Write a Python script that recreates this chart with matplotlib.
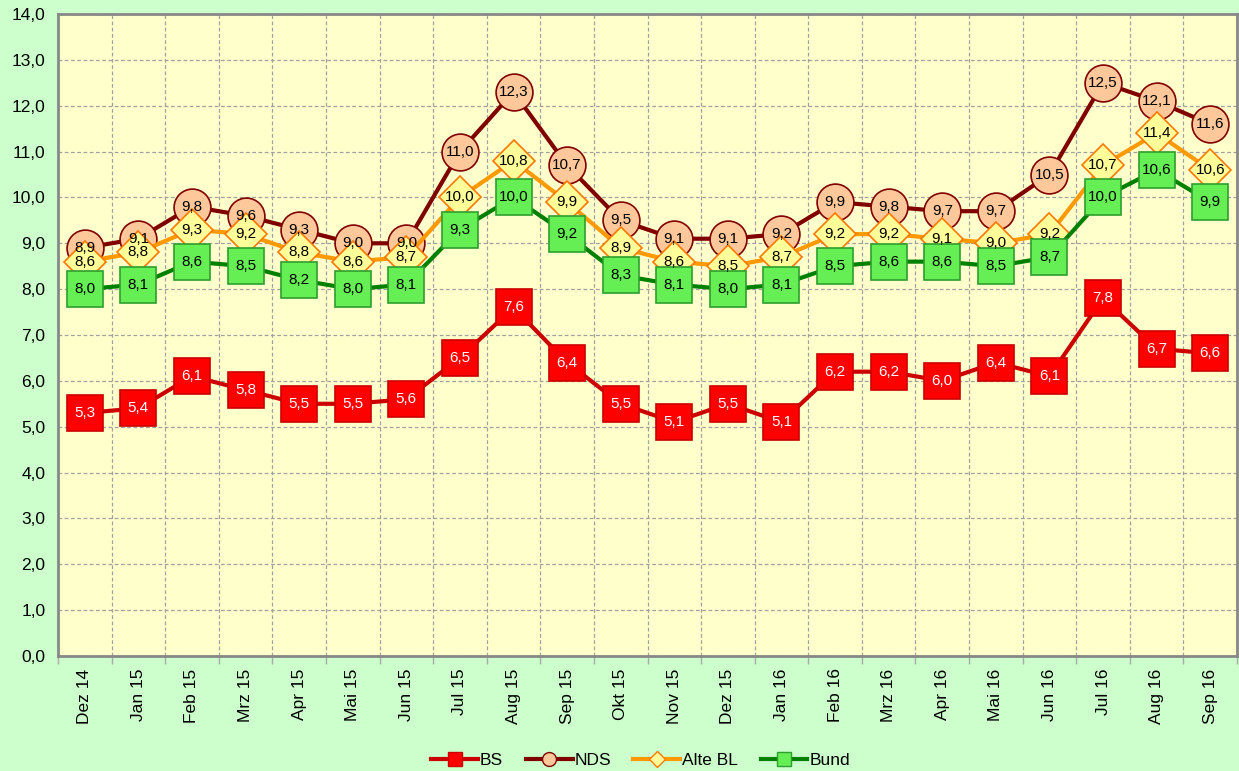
import matplotlib
matplotlib.use("Agg")
import matplotlib.pyplot as plt
from matplotlib.ticker import FixedLocator, FuncFormatter
import numpy as np

plt.rcParams['font.family'] = ['Liberation Sans', 'DejaVu Sans']

months = ["Dez 14", "Jan 15", "Feb 15", "Mrz 15", "Apr 15", "Mai 15", "Jun 15", "Jul 15",
          "Aug 15", "Sep 15", "Okt 15", "Nov 15", "Dez 15", "Jan 16", "Feb 16", "Mrz 16",
          "Apr 16", "Mai 16", "Jun 16", "Jul 16", "Aug 16", "Sep 16"]
bs = [5.3, 5.4, 6.1, 5.8, 5.5, 5.5, 5.6, 6.5, 7.6, 6.4, 5.5, 5.1, 5.5, 5.1, 6.2, 6.2, 6.0, 6.4, 6.1, 7.8, 6.7, 6.6]
nds = [8.9, 9.1, 9.8, 9.6, 9.3, 9.0, 9.0, 11.0, 12.3, 10.7, 9.5, 9.1, 9.1, 9.2, 9.9, 9.8, 9.7, 9.7, 10.5, 12.5, 12.1, 11.6]
alte_bl = [8.6, 8.8, 9.3, 9.2, 8.8, 8.6, 8.7, 10.0, 10.8, 9.9, 8.9, 8.6, 8.5, 8.7, 9.2, 9.2, 9.1, 9.0, 9.2, 10.7, 11.4, 10.6]
bund = [8.0, 8.1, 8.6, 8.5, 8.2, 8.0, 8.1, 9.3, 10.0, 9.2, 8.3, 8.1, 8.0, 8.1, 8.5, 8.6, 8.6, 8.5, 8.7, 10.0, 10.6, 9.9]
y_ticks = list(range(0, 15))

fig = plt.figure(figsize=(12.39, 7.71), dpi=100, facecolor='#CCFFCC')
ax = fig.add_axes([0.0468, 0.1492, 0.9516, 0.8326])
ax.set_facecolor('#FFFFCC')

x = np.arange(len(months))

series = [
    ("BS", bs, '#CC0000', 's', '#FF0000', '#CC0000', 26, 'white'),
    ("NDS", nds, '#800000', 'o', '#FFC89A', '#800000', 26.5, 'black'),
    ("Alte BL", alte_bl, '#FF9900', 'D', '#FFFF99', '#FF7700', 21.5, 'black'),
    ("Bund", bund, '#008000', 's', '#66EE55', '#2E9E2E', 26, 'black'),
]

handles = []
for i, (name, vals, lc, mk, mfc, mec, ms, tc) in enumerate(series):
    ax.plot(x, vals, color=lc, lw=3, zorder=3 + i, marker=mk, markersize=ms,
            markerfacecolor=mfc, markeredgecolor=mec, markeredgewidth=1.2,
            clip_on=False)
    h, = ax.plot([], [], color=lc, lw=3, marker=mk, markersize=10 if mk != 'D' else 8,
                 markerfacecolor=mfc, markeredgecolor=mec, markeredgewidth=1)
    handles.append((h, name))
    for xi, v in zip(x, vals):
        ax.text(xi, v, f"{v:.1f}".replace('.', ','), ha='center', va='center',
                fontsize=11, color=tc, zorder=20)

ax.set_xlim(-0.5, len(months) - 0.5)
ax.set_ylim(0, 14)
ax.yaxis.set_major_locator(FixedLocator(y_ticks))
ax.yaxis.set_major_formatter(FuncFormatter(lambda v, p: f"{v:.1f}".replace('.', ',')))
ax.set_xticks(x)
ax.set_xticklabels(months, rotation=90, fontsize=12.5)
ax.set_xticks(np.arange(-0.5, len(months), 1), minor=True)
ax.tick_params(axis='x', which='major', length=0, pad=9)
ax.tick_params(axis='x', which='minor', length=6, color='#AAAAAA', width=1)
ax.tick_params(axis='y', which='major', length=0, labelsize=12.5, pad=9)

ax.grid(True, which='minor', axis='x', color='#A0A0A0', ls=(0, (3, 2)), lw=0.9)
ax.grid(True, which='major', axis='y', color='#A0A0A0', ls=(0, (3, 2)), lw=0.9)
ax.set_axisbelow(True)
for s in ax.spines.values():
    s.set_color('#888888')
    s.set_linewidth(2)

leg = fig.legend([h for h, _ in handles], [n for _, n in handles], loc='lower center',
                 bbox_to_anchor=(0.517, -0.017), ncol=4, frameon=False, fontsize=12.5,
                 handlelength=2.7, handletextpad=0.1, columnspacing=1.3)

fig.savefig("out.png", dpi=100, facecolor=fig.get_facecolor())
